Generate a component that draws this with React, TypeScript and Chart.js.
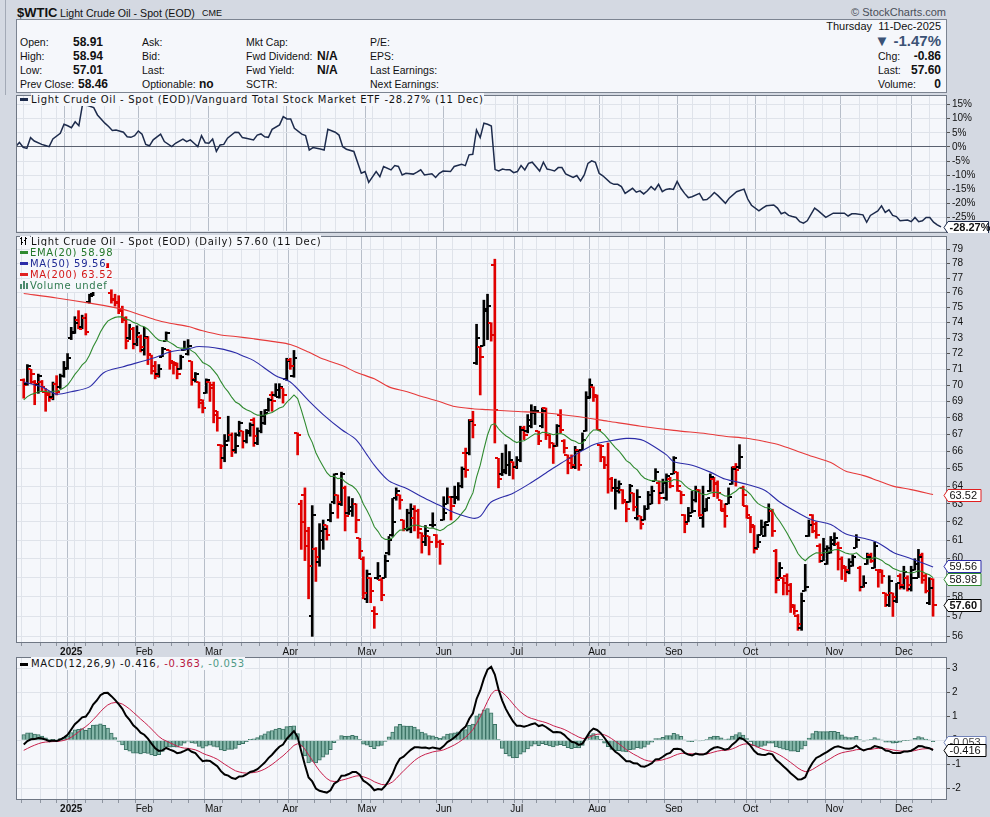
import React, { useEffect, useRef } from 'react';
import { Chart, registerables } from 'chart.js';
Chart.register(...registerables);

// ---------------- data ----------------
const START_DATE = '2024-12-12';
const END_DATE = '2025-12-11';
const HOLIDAYS = ['2024-12-25', '2025-01-01', '2025-01-09', '2025-01-20', '2025-02-17', '2025-04-18', '2025-05-26', '2025-06-19', '2025-07-04', '2025-09-01', '2025-11-27'];

const OPEN = [
  70.3, 70.1, 71.0, 70.2, 70.0, 70.2, 69.6, 69.4, 69.3, 70.1, 69.9, 70.6, 71.1,
  73.0, 73.4, 74.2, 73.7, 74.3, 75.4, 75.9, 77.6, 77.2, 78.4, 77.7, 76.0, 75.5, 75.4, 74.9, 74.2, 73.0, 73.6, 72.6, 73.1,
  72.2, 73.0, 71.9, 71.2, 70.7, 71.8, 72.8, 72.2, 71.5, 71.4, 71.0, 72.2, 72.0, 71.5, 70.3, 70.2, 69.1, 69.5, 70.2,
  70.0, 68.2, 66.4, 65.6, 66.6, 67.0, 66.1, 67.0, 67.2, 66.6, 67.1, 67.9, 66.5, 67.2, 67.7, 68.5, 69.4, 69.4, 69.3, 69.8, 70.4,
  71.6, 70.6, 67.1, 63.0, 63.5, 61.5, 57.0, 60.5, 59.8, 61.0, 61.8, 62.1, 63.1, 63.5, 63.0, 63.9, 62.5, 62.6, 63.0, 61.1, 60.0,
  57.9, 59.0, 57.3, 59.0, 58.9, 59.0, 60.3, 61.3, 63.3, 63.5, 62.1, 61.6, 61.6, 62.2, 62.6, 61.4, 60.9, 61.2, 61.8, 61.3, 60.9,
  62.1, 63.0, 63.4, 63.4, 63.3, 64.0, 65.9, 65.9, 67.9, 71.4, 72.4, 72.5, 74.9, 74.0, 77.9, 65.6, 64.7, 64.8, 65.2, 65.4,
  65.1, 65.5, 67.4, 67.2, 67.5, 68.4, 67.2, 67.5, 68.6, 67.0, 66.5, 66.3, 68.2, 66.6, 65.8, 65.6, 65.1, 66.1, 66.1, 67.2, 69.3, 69.9,
  69.4, 66.4, 65.7, 65.2, 64.4, 63.9, 63.7, 63.8, 63.1, 63.1, 63.6, 62.2, 62.3, 62.1, 62.7, 63.0, 64.3, 64.2, 63.6, 63.3, 64.4,
  64.7, 64.8, 63.7, 62.4, 62.0, 62.5, 63.2, 63.8, 62.2, 62.6, 63.7, 64.4, 64.2, 63.2, 62.6, 63.0, 64.1, 65.1, 65.1, 63.9, 62.9,
  62.2, 61.7, 60.6, 61.3, 61.2, 62.0, 62.6, 60.4, 59.0, 59.0, 59.1, 58.6, 57.6, 57.0, 56.4, 58.3, 61.2, 62.4, 61.9, 60.7, 59.9, 59.7, 60.3,
  60.8, 60.8, 60.0, 59.5, 59.3, 59.6, 60.6, 59.5, 58.5, 59.7, 60.2, 59.5, 59.4, 59.4, 58.2, 57.6, 58.2, 57.8, 59.1,
  58.5, 59.0, 58.4, 59.4, 59.0, 60.2, 59.1, 57.7, 58.91,
];
const HIGH = [
  70.4, 71.3, 71.0, 70.3, 70.7, 70.3, 69.8, 69.6, 70.2, 70.6, 70.7, 71.5, 72.0,
  73.7, 74.4, 74.8, 74.5, 74.6, 75.9, 77.9, 77.8, 78.7, 78.5, 78.0, 76.2, 75.9, 75.8, 75.1, 74.4, 73.9, 73.7, 73.8, 73.2,
  73.7, 73.1, 71.9, 71.5, 71.3, 72.4, 73.4, 72.2, 71.5, 71.4, 71.9, 72.8, 72.9, 71.5, 70.8, 70.2, 69.1, 70.4, 70.2,
  70.2, 68.4, 66.4, 67.0, 68.1, 67.1, 67.1, 67.8, 67.2, 67.3, 67.7, 68.0, 67.4, 68.4, 68.5, 69.2, 69.6, 70.1, 70.1, 69.8, 71.7,
  71.7, 72.2, 67.1, 63.2, 63.9, 61.7, 62.9, 60.6, 61.9, 62.1, 61.8, 63.0, 64.7, 63.5, 64.8, 64.0, 63.4, 63.3, 63.0, 61.1, 60.1,
  59.4, 59.0, 57.5, 59.8, 59.0, 60.2, 61.2, 63.3, 63.9, 63.5, 62.1, 62.7, 63.0, 62.9, 62.7, 61.4, 61.8, 61.2, 62.5, 61.3, 61.0,
  63.4, 63.9, 63.4, 64.0, 64.2, 65.1, 66.2, 67.9, 68.4, 73.9, 72.4, 75.5, 75.9, 74.0, 78.3, 65.6, 65.9, 66.4, 66.0, 65.4,
  65.7, 67.5, 67.5, 68.2, 68.8, 68.7, 67.2, 68.6, 68.6, 67.0, 66.5, 67.6, 68.5, 66.7, 65.8, 65.8, 66.3, 66.1, 67.1, 69.6, 70.4, 69.9,
  69.4, 66.4, 65.7, 66.5, 64.5, 64.4, 64.3, 63.8, 63.1, 64.1, 63.6, 63.8, 62.3, 62.9, 63.7, 64.0, 65.0, 64.3, 64.4, 64.7, 64.5,
  65.7, 64.8, 63.7, 62.4, 62.8, 63.7, 64.0, 63.8, 64.0, 63.3, 64.7, 64.5, 64.3, 63.2, 63.0, 63.9, 65.1, 65.3, 66.4, 64.0, 62.9,
  62.3, 61.8, 61.3, 62.1, 62.0, 63.0, 62.7, 60.5, 59.8, 59.0, 59.2, 58.7, 57.6, 57.1, 58.2, 59.7, 62.1, 62.4, 62.0, 60.8, 61.1, 60.7, 61.2,
  61.4, 60.9, 60.1, 59.6, 60.0, 60.2, 61.3, 59.6, 59.1, 60.3, 60.3, 60.9, 59.4, 59.4, 58.2, 59.1, 58.2, 58.7, 59.2,
  59.6, 59.1, 59.6, 60.0, 60.5, 60.3, 59.2, 59.0, 58.94,
];
const LOW = [
  69.2, 70.0, 70.1, 68.8, 69.5, 69.6, 68.4, 69.0, 69.1, 69.4, 69.8, 70.5, 71.0,
  72.9, 73.3, 73.6, 73.6, 73.2, 75.3, 75.8, 76.6, 77.1, 77.0, 76.9, 75.3, 75.1, 74.6, 74.0, 72.3, 72.9, 72.3, 72.5, 72.1,
  71.9, 71.3, 70.7, 70.4, 70.5, 71.8, 72.8, 71.0, 70.7, 70.4, 71.0, 72.2, 71.9, 70.0, 70.2, 68.6, 68.3, 69.5, 69.0,
  67.7, 67.2, 65.0, 65.4, 66.6, 65.7, 65.9, 66.9, 66.2, 66.5, 66.9, 66.3, 66.4, 67.1, 67.6, 68.4, 68.4, 69.3, 69.2, 68.9, 70.3,
  71.0, 70.5, 65.8, 60.5, 59.9, 57.9, 56.0, 58.8, 59.6, 60.5, 61.0, 62.0, 63.0, 62.2, 62.9, 61.5, 62.4, 62.3, 61.4, 60.0, 57.9,
  57.7, 57.7, 56.4, 58.9, 57.8, 59.0, 60.2, 61.2, 63.2, 62.7, 61.5, 61.5, 61.4, 61.5, 61.1, 60.3, 60.7, 60.2, 61.7, 60.6, 59.7,
  62.1, 63.0, 62.1, 63.0, 63.2, 63.9, 64.5, 65.8, 66.8, 71.3, 69.4, 72.5, 72.9, 72.8, 66.5, 63.9, 64.6, 64.7, 64.6, 64.4,
  65.0, 65.4, 66.7, 67.1, 67.4, 67.6, 66.4, 67.4, 66.7, 66.2, 65.3, 66.3, 67.1, 65.9, 64.7, 65.0, 65.0, 64.9, 66.1, 67.2, 69.2, 69.0,
  67.3, 65.4, 65.0, 63.6, 63.7, 62.7, 63.6, 63.0, 62.0, 63.1, 62.6, 62.1, 61.6, 62.1, 62.7, 63.0, 64.3, 63.0, 63.6, 63.2, 63.9,
  64.7, 63.7, 63.0, 61.4, 62.0, 62.5, 63.1, 62.3, 61.7, 62.6, 63.7, 63.4, 63.3, 62.6, 61.7, 63.0, 64.1, 64.0, 65.0, 62.9, 62.2,
  61.4, 60.3, 60.6, 61.3, 61.2, 62.0, 61.2, 58.2, 59.0, 58.1, 58.1, 57.2, 57.1, 56.3, 56.3, 58.3, 61.2, 61.4, 61.1, 59.8, 59.9, 59.7, 60.3,
  60.7, 59.4, 58.9, 58.8, 59.2, 59.6, 60.6, 58.3, 58.5, 59.7, 59.8, 59.5, 58.5, 58.7, 57.5, 57.5, 57.0, 57.7, 58.4,
  58.4, 58.3, 58.3, 59.4, 59.0, 58.7, 58.2, 57.6, 57.01,
];
const CLOSE = [
  70.0, 71.2, 70.7, 70.1, 70.6, 69.9, 69.5, 69.2, 70.1, 69.6, 70.6, 71.0, 71.7,
  73.3, 74.0, 73.6, 74.3, 73.4, 75.8, 77.6, 77.0, 78.4, 77.6, 77.1, 75.6, 75.3, 74.8, 74.3, 72.8, 73.6, 72.6, 73.3, 72.4,
  73.1, 72.0, 70.9, 70.6, 71.0, 72.3, 73.3, 71.4, 71.3, 70.7, 71.8, 72.3, 72.5, 70.4, 70.7, 68.9, 68.6, 70.3, 69.8,
  68.4, 68.0, 66.3, 66.4, 67.0, 66.0, 66.3, 67.7, 66.6, 67.2, 67.6, 66.9, 67.2, 68.1, 68.3, 69.1, 69.0, 69.7, 69.9, 69.4, 71.5,
  71.2, 71.7, 67.0, 62.0, 60.7, 59.6, 62.4, 60.1, 61.5, 61.6, 61.3, 62.5, 64.7, 63.1, 64.7, 62.3, 62.8, 63.0, 62.1, 60.4, 58.2,
  59.2, 58.3, 57.1, 59.1, 58.1, 59.9, 61.0, 62.0, 63.7, 63.2, 61.6, 62.5, 62.7, 62.6, 61.6, 61.2, 61.5, 60.9, 61.8, 60.9, 60.8,
  62.5, 63.4, 62.9, 63.4, 64.0, 65.0, 64.9, 67.8, 67.6, 73.0, 71.8, 74.8, 75.1, 73.2, 68.5, 64.4, 64.9, 65.2, 65.5, 65.1,
  65.5, 67.3, 67.0, 67.9, 68.3, 68.4, 66.6, 68.4, 67.0, 66.5, 66.3, 67.5, 67.3, 66.2, 65.3, 65.2, 66.0, 65.2, 66.7, 69.2, 70.0, 69.3,
  67.3, 66.3, 65.2, 64.4, 63.9, 63.9, 64.1, 63.2, 62.7, 64.0, 62.8, 63.4, 61.9, 62.7, 63.5, 63.7, 64.8, 63.3, 64.2, 64.6, 64.0,
  65.6, 64.0, 63.5, 61.9, 62.3, 62.6, 63.7, 62.4, 62.7, 63.3, 64.5, 64.1, 63.6, 62.7, 62.3, 63.4, 65.0, 64.9, 65.7, 63.5, 62.4,
  61.8, 60.5, 60.9, 61.7, 61.8, 62.6, 61.5, 58.9, 59.5, 58.7, 58.3, 57.5, 57.3, 56.6, 57.8, 58.5, 61.8, 61.5, 61.3, 60.2, 60.5, 60.6, 61.0,
  61.1, 60.6, 59.6, 59.4, 59.8, 60.1, 61.0, 58.5, 58.7, 60.1, 59.9, 60.7, 59.3, 59.1, 58.1, 58.8, 58.0, 58.7, 58.6,
  59.3, 58.6, 59.0, 59.7, 60.1, 58.9, 58.3, 58.46, 57.60,
];

// moving averages (bar index, value)
const MA50_IDX = [0, 5, 9, 13, 18, 22, 27, 36, 40, 45, 48, 54, 58, 60, 63, 69, 73, 78, 82, 87, 91, 94, 96, 100, 105, 109, 114, 118, 123, 125, 128, 134, 139, 143, 147, 151, 156, 160, 165, 169, 171, 176, 178, 183, 188, 192, 194, 198, 203, 207, 212, 216, 221, 225, 230, 234, 238, 243, 249];
const MA50_VAL = [70.2, 69.9, 69.45, 69.6, 69.9, 70.8, 71.15, 71.75, 72.1, 72.3, 72.45, 72.3, 72.05, 71.85, 71.55, 70.6, 70.2, 69.05, 68.2, 67.3, 66.7, 65.8, 65.2, 64.3, 63.85, 63.4, 62.9, 62.5, 62.2, 62.3, 63.1, 63.6, 64.2, 64.75, 65.3, 65.8, 66.4, 66.6, 66.77, 66.7, 66.5, 65.8, 65.4, 65.2, 64.8, 64.4, 64.3, 64.1, 63.75, 63.1, 62.5, 62.1, 61.85, 61.35, 61.1, 60.85, 60.35, 60.0, 59.56];
const MA200_IDX = [0, 9, 18, 27, 31, 36, 40, 45, 49, 54, 58, 63, 69, 73, 78, 82, 87, 91, 96, 100, 105, 109, 114, 118, 123, 127, 134, 143, 151, 160, 169, 178, 187, 192, 198, 203, 207, 212, 216, 221, 225, 230, 234, 238, 243, 249];
const MA200_VAL = [75.95, 75.65, 75.3, 74.9, 74.6, 74.2, 73.97, 73.75, 73.47, 73.2, 73.1, 72.95, 72.75, 72.58, 72.1, 71.65, 71.25, 70.82, 70.4, 69.9, 69.6, 69.3, 68.98, 68.69, 68.55, 68.5, 68.4, 68.3, 68.1, 67.8, 67.5, 67.25, 67.05, 66.9, 66.78, 66.58, 66.38, 66.0, 65.7, 65.35, 64.87, 64.6, 64.3, 64.0, 63.8, 63.52];

// relative strength vs VTI, % change (bar index, value)
const RS_IDX = [0, 1, 2, 3, 4, 5, 7, 8, 9, 10, 12, 13, 14, 15, 16, 17, 18, 19, 21, 22, 24, 25, 26, 27, 29, 30, 31, 32, 33, 34, 35, 36, 37, 39, 40, 42, 43, 45, 46, 47, 48, 49, 50, 51, 52, 53, 54, 55, 56, 57, 59, 60, 61, 62, 64, 65, 66, 67, 68, 69, 71, 72, 73, 74, 75, 77, 78, 79, 80, 82, 83, 84, 86, 87, 88, 89, 91, 93, 94, 95, 97, 98, 99, 101, 102, 103, 104, 105, 107, 108, 109, 110, 112, 113, 114, 115, 117, 118, 120, 121, 122, 123, 124, 125, 126, 127, 128, 129, 130, 131, 132, 133, 134, 135, 136, 137, 138, 139, 141, 142, 143, 144, 145, 146, 147, 148, 150, 151, 152, 153, 154, 155, 156, 157, 158, 160, 161, 162, 163, 164, 166, 167, 168, 169, 170, 171, 172, 173, 174, 175, 176, 177, 178, 179, 180, 181, 182, 184, 185, 186, 187, 188, 189, 191, 192, 194, 196, 197, 198, 200, 201, 202, 204, 205, 206, 207, 208, 209, 210, 211, 212, 213, 215, 216, 218, 220, 221, 223, 224, 225, 226, 228, 229, 230, 232, 233, 234, 235, 236, 237, 238, 240, 241, 242, 243, 244, 245, 246, 247, 248, 249];
const RS_VAL = [0.1, 1.6, -0.1, -0.5, 3.3, 2.1, 0.9, 0.5, 0.1, 2.8, 4.8, 8.0, 7.5, 6.8, 8.9, 7.5, 15.1, 14.8, 13.9, 11.3, 8.4, 7.2, 5.8, 6.0, 5.2, 3.6, 3.4, 4.0, 5.6, 4.5, 0.9, 0.4, 2.5, 4.5, 1.9, 0.1, 1.3, 2.8, 1.9, 2.5, 1.3, 0.1, 4.0, 1.5, 1.3, 2.8, -1.6, 0.7, 0.9, 3.1, 5.2, 5.1, 3.3, 3.1, 2.5, 4.2, 4.6, 3.6, 3.4, 6.2, 7.8, 10.7, 9.9, 9.9, 6.6, 4.5, 4.0, -1.1, -0.2, -0.7, -1.1, 6.2, 5.2, 4.2, 0.1, -0.8, -1.6, -9.3, -8.7, -12.5, -8.7, -10.5, -6.9, -8.1, -6.6, -6.9, -9.9, -9.3, -9.6, -8.9, -8.1, -9.9, -9.5, -10.8, -9.3, -8.5, -8.7, -6.9, -6.1, -6.6, -2.8, -2.6, 6.0, 3.3, 8.4, 8.0, 7.4, -8.0, -8.5, -7.8, -8.1, -8.1, -9.1, -8.7, -6.6, -8.1, -5.8, -5.4, -8.5, -5.4, -7.8, -8.1, -8.5, -7.3, -7.3, -9.5, -10.8, -10.1, -12.0, -9.9, -5.8, -4.9, -5.4, -9.3, -10.2, -12.6, -13.2, -13.2, -14.0, -16.4, -14.6, -16.0, -15.5, -16.6, -15.5, -14.0, -15.2, -13.2, -15.8, -15.0, -14.8, -15.0, -12.2, -14.6, -16.4, -17.9, -17.6, -16.4, -18.7, -18.6, -17.5, -16.1, -17.2, -19.9, -18.1, -15.8, -14.9, -18.4, -20.6, -22.6, -21.6, -20.8, -20.5, -21.6, -23.6, -23.1, -24.2, -24.6, -24.9, -26.4, -26.9, -26.1, -21.6, -22.6, -24.9, -23.4, -23.4, -23.4, -24.4, -23.6, -23.6, -24.0, -26.6, -24.2, -22.6, -20.8, -23.1, -22.2, -24.2, -24.6, -26.1, -25.8, -26.4, -24.9, -26.4, -26.1, -24.9, -24.9, -26.6, -27.5, -28.27];

// indicator seeds (values at the first bar)
const EMA20_SEED = 69.1;
const EMA12_SEED = 69.55;
const EMA26_SEED = 69.73;
const SIGNAL_SEED = -0.42;

const PRICE_TICKS = [56, 57, 58, 59, 60, 61, 62, 63, 64, 65, 66, 67, 68, 69, 70, 71, 72, 73, 74, 75, 76, 77, 78, 79];
const RS_TICKS = [-30, -25, -20, -15, -10, -5, 0, 5, 10, 15];
const MACD_TICKS = [-2, -1, 0, 1, 2, 3];
const MONTH_NAMES = ['2025', 'Feb', 'Mar', 'Apr', 'May', 'Jun', 'Jul', 'Aug', 'Sep', 'Oct', 'Nov', 'Dec'];

// ---------------- style ----------------
const FONT_UI = '"Liberation Sans", Arial, sans-serif';
const FONT_CH = '"DejaVu Sans", Verdana, sans-serif';
const FRAME = '#d4d9e2';
const PLOT_BG = '#f5f7fb';
const GRID = '#dfe3ea';
const GRID_MONTH = '#b7bec9';
const BORDER = '#6f7784';
const RED = '#e00000';
const X_MIN = 0.35;
const X_MAX = 250.35;

function buildTradingDates(): Date[] {
  const out: Date[] = [];
  const hol = new Set(HOLIDAYS);
  const d = new Date(START_DATE + 'T00:00:00Z');
  const end = new Date(END_DATE + 'T00:00:00Z').getTime();
  while (d.getTime() <= end) {
    const dow = d.getUTCDay();
    const key = d.toISOString().slice(0, 10);
    if (dow !== 0 && dow !== 6 && !hol.has(key)) out.push(new Date(d.getTime()));
    d.setUTCDate(d.getUTCDate() + 1);
  }
  return out;
}
const DATES = buildTradingDates();
const MONTH_LABEL: Record<number, string> = {};
const GRID_SET = new Set<number>();
DATES.forEach((d, i) => {
  if (i === 0) return;
  const p = DATES[i - 1];
  if (d.getUTCMonth() !== p.getUTCMonth()) {
    MONTH_LABEL[i] = MONTH_NAMES[d.getUTCMonth()];
    GRID_SET.add(i);
  }
  if (d.getUTCDay() < p.getUTCDay() || d.getTime() - p.getTime() > 4 * 86400000) GRID_SET.add(i);
});
const GRID_IDX = Array.from(GRID_SET).sort((a, b) => a - b);

function ema(values: number[], period: number, seed: number): number[] {
  const k = 2 / (period + 1);
  const out: number[] = [];
  let e = seed;
  values.forEach((v, i) => {
    if (i > 0) e = e + k * (v - e);
    out.push(e);
  });
  return out;
}

function xScale(labels: boolean): any {
  return {
    type: 'linear',
    min: X_MIN,
    max: X_MAX,
    afterBuildTicks: (s: any) => { s.ticks = GRID_IDX.map((v) => ({ value: v })); },
    afterFit: (s: any) => {
      s.height = labels ? 12 : 0;
      s.paddingLeft = 0; s.paddingRight = 0; s.paddingTop = 0; s.paddingBottom = 0;
    },
    grid: {
      color: (c: any) => (c.tick && MONTH_LABEL[c.tick.value] ? GRID_MONTH : GRID),
      lineWidth: 1,
      drawTicks: labels,
      tickLength: 3,
      tickColor: '#8d949f',
    },
    border: { display: false },
    ticks: {
      display: labels,
      autoSkip: false,
      maxRotation: 0,
      minRotation: 0,
      padding: 0,
      color: '#111',
      font: (c: any) => ({ family: FONT_UI, size: 10, weight: c.tick && MONTH_LABEL[c.tick.value] === '2025' ? 'bold' : 'normal' }),
      callback: (v: any) => MONTH_LABEL[v] || '',
    },
  };
}

function yScale(extra: any, ticks: number[], fmt: (v: number) => string, gridColor?: (v: number) => string): any {
  return {
    position: 'right',
    afterBuildTicks: (s: any) => { s.ticks = ticks.map((v) => ({ value: v })); },
    afterFit: (s: any) => {
      s.width = 44;
      s.paddingTop = 0; s.paddingBottom = 0; s.paddingLeft = 0; s.paddingRight = 0;
    },
    grid: {
      color: (c: any) => (gridColor && c.tick ? gridColor(c.tick.value) : GRID),
      drawTicks: true,
      tickLength: 4,
      tickColor: '#555',
    },
    border: { display: false },
    ticks: {
      padding: 2,
      autoSkip: false,
      color: '#111',
      font: { family: FONT_UI, size: 10 },
      callback: (v: any) => fmt(Number(v)),
    },
    ...extra,
  };
}

const framePlugin: any = {
  id: 'frame',
  beforeDraw(chart: any) {
    const { ctx, chartArea: a } = chart;
    ctx.save();
    ctx.fillStyle = FRAME;
    ctx.fillRect(0, 0, chart.width, chart.height);
    ctx.fillStyle = PLOT_BG;
    ctx.fillRect(a.left, a.top, a.right - a.left, a.bottom - a.top);
    ctx.restore();
  },
  afterDraw(chart: any, _args: any, opts: any) {
    const { ctx, chartArea: a } = chart;
    ctx.save();
    ctx.strokeStyle = BORDER;
    ctx.lineWidth = 1;
    ctx.strokeRect(Math.round(a.left) - 0.5, Math.round(a.top) + 0.5, Math.round(a.right - a.left) + 1, Math.round(a.bottom - a.top) - 1);
    const items = (opts && opts.items) || [];
    const y = chart.scales.y;
    items.forEach((t: any) => {
      const py = Math.round(y.getPixelForValue(t.value)) + 0.5 + (t.dy || 0);
      const x0 = a.right + 2;
      const x1 = Math.min(chart.width - 1.5, x0 + (t.w || 33));
      const h = 12;
      ctx.beginPath();
      ctx.moveTo(x0 - 4, py);
      ctx.lineTo(x0, py - h / 2);
      ctx.lineTo(x1, py - h / 2);
      ctx.lineTo(x1, py + h / 2);
      ctx.lineTo(x0, py + h / 2);
      ctx.closePath();
      ctx.fillStyle = '#ffffff';
      ctx.fill();
      ctx.strokeStyle = t.color;
      ctx.lineWidth = 1;
      ctx.stroke();
      ctx.fillStyle = t.textColor || '#111';
      ctx.font = (t.bold ? 'bold ' : '') + '11px ' + FONT_UI;
      ctx.textBaseline = 'middle';
      ctx.textAlign = 'left';
      ctx.fillText(t.text, x0 + 1.5, py + 0.5);
    });
    ctx.restore();
  },
};

function tickImage(color: string, left: boolean) {
  const c = document.createElement('canvas');
  c.width = 7;
  c.height = 2;
  const g = c.getContext('2d') as CanvasRenderingContext2D;
  g.fillStyle = color;
  g.fillRect(left ? 0 : 4, 0, 3, 2);
  return c;
}

const baseOptions = (padding: any): any => ({
  responsive: false,
  maintainAspectRatio: false,
  animation: false,
  events: [],
  layout: { padding },
  plugins: { legend: { display: false }, tooltip: { enabled: false } },
});

function rsConfig(): any {
  return {
    type: 'line',
    data: {
      datasets: [{
        data: RS_IDX.map((x, i) => ({ x, y: RS_VAL[i] })),
        borderColor: '#1d2b4c',
        borderWidth: 1.5,
        pointRadius: 0,
        tension: 0,
      }],
    },
    options: {
      ...baseOptions({ left: 17, right: 0, top: 0, bottom: 0 }),
      scales: {
        x: xScale(false),
        y: yScale({ type: 'linear', min: -30.4, max: 18.35 }, RS_TICKS, (v) => v + '%', (v) => (v === 0 ? '#5a6170' : GRID)),
      },
      plugins: {
        legend: { display: false },
        tooltip: { enabled: false },
        frame: { items: [{ value: -28.27, text: '-28.27%', color: '#1d2b4c', bold: true, w: 44 }] },
      },
    },
    plugins: [framePlugin],
  };
}

function priceConfig(): any {
  const colors = CLOSE.map((c, i) => (i === 0 || c < CLOSE[i - 1] ? RED : '#000000'));
  const openRed = tickImage(RED, true);
  const openBlack = tickImage('#000000', true);
  const closeRed = tickImage(RED, false);
  const closeBlack = tickImage('#000000', false);
  const ema20 = ema(CLOSE, 20, EMA20_SEED);
  return {
    type: 'bar',
    data: {
      datasets: [
        { type: 'line', data: MA200_IDX.map((x, i) => ({ x, y: MA200_VAL[i] })), borderColor: '#e63a3a', borderWidth: 1.1, pointRadius: 0, tension: 0.3, order: 0 },
        { type: 'line', data: MA50_IDX.map((x, i) => ({ x, y: MA50_VAL[i] })), borderColor: '#2c2ca8', borderWidth: 1.1, pointRadius: 0, tension: 0.3, order: 0 },
        { type: 'line', data: ema20.map((y, x) => ({ x, y })), borderColor: '#2f8a2f', borderWidth: 1.1, pointRadius: 0, tension: 0, order: 0 },
        {
          type: 'line', showLine: false, data: OPEN.map((y, x) => ({ x, y })), order: 1,
          pointRadius: 2, pointHoverRadius: 2,
          pointStyle: (c: any) => (colors[c.dataIndex] === RED ? openRed : openBlack),
        },
        {
          type: 'line', showLine: false, data: CLOSE.map((y, x) => ({ x, y })), order: 1,
          pointRadius: 2, pointHoverRadius: 2,
          pointStyle: (c: any) => (colors[c.dataIndex] === RED ? closeRed : closeBlack),
        },
        {
          type: 'bar', data: LOW.map((l, x) => ({ x, y: [l, HIGH[x]] })), backgroundColor: colors,
          barThickness: 2, borderWidth: 0, order: 2,
        },
      ],
    },
    options: {
      ...baseOptions({ left: 17, right: 0, top: 0, bottom: 0 }),
      scales: {
        x: xScale(true),
        y: yScale({ type: 'logarithmic', min: 55.67, max: 79.93 }, PRICE_TICKS, (v) => String(v)),
      },
      plugins: {
        legend: { display: false },
        tooltip: { enabled: false },
        frame: {
          items: [
            { value: 63.52, text: '63.52', color: '#e02020' },
            { value: 59.56, text: '59.56', color: '#2c2ca8', dy: -1 },
            { value: 58.98, text: '58.98', color: '#2f8a2f', dy: 1 },
            { value: 57.6, text: '57.60', color: '#000000', bold: true },
          ],
        },
      },
    },
    plugins: [framePlugin],
  };
}

function macdConfig(): any {
  const e12 = ema(CLOSE, 12, EMA12_SEED);
  const e26 = ema(CLOSE, 26, EMA26_SEED);
  const macd = e12.map((v, i) => v - e26[i]);
  const signal = ema(macd, 9, SIGNAL_SEED);
  const hist = macd.map((v, i) => v - signal[i]);
  return {
    type: 'bar',
    data: {
      datasets: [
        { type: 'line', data: macd.map((y, x) => ({ x, y })), borderColor: '#000000', borderWidth: 2, pointRadius: 0, order: 0 },
        { type: 'line', data: signal.map((y, x) => ({ x, y })), borderColor: '#c8204c', borderWidth: 1, pointRadius: 0, order: 1 },
        {
          type: 'bar', data: hist.map((y, x) => ({ x, y })), backgroundColor: '#86b7aa', borderColor: '#3b7264',
          borderWidth: 1, barPercentage: 1, categoryPercentage: 1, order: 2,
        },
      ],
    },
    options: {
      ...baseOptions({ left: 17, right: 0, top: 2, bottom: 5 }),
      scales: {
        x: xScale(true),
        y: yScale({ type: 'linear', min: -2.49, max: 3.47 }, MACD_TICKS, (v) => String(v)),
      },
      plugins: {
        legend: { display: false },
        tooltip: { enabled: false },
        frame: {
          items: [
            { value: -0.053, text: '-0.053', color: '#7283b8', textColor: '#444', w: 38 },
            { value: -0.416, text: '-0.416', color: '#000000', w: 38 },
          ],
        },
      },
    },
    plugins: [framePlugin],
  };
}

// ---------------- components ----------------
function Txt(p: any) {
  const size = p.size || 11;
  const h = Math.round(size * 1.3);
  const style: any = {
    position: 'absolute', top: p.y - h / 2, height: h, lineHeight: h + 'px', fontSize: size,
    fontWeight: p.bold ? 'bold' : 'normal', color: p.color || '#111', fontFamily: p.family || FONT_UI,
    whiteSpace: 'nowrap', letterSpacing: p.ls || 'normal',
  };
  if (p.align === 'right') style.right = 990 - p.x; else style.left = p.x;
  if (p.bg) style.background = p.bg;
  return <div style={style}>{p.children}</div>;
}

function Dash(p: any) {
  return <div style={{ position: 'absolute', left: p.x, top: p.y - 1, width: 8, height: 2.5, background: p.color }} />;
}

function Box(p: any) {
  return <div style={{ position: 'absolute', left: p.x, top: p.y, width: p.w, height: p.h, background: p.c }} />;
}

export default function App() {
  const rsRef = useRef<HTMLCanvasElement>(null);
  const priceRef = useRef<HTMLCanvasElement>(null);
  const macdRef = useRef<HTMLCanvasElement>(null);

  useEffect(() => {
    const charts = [
      new Chart(rsRef.current as HTMLCanvasElement, rsConfig()),
      new Chart(priceRef.current as HTMLCanvasElement, priceConfig()),
      new Chart(macdRef.current as HTMLCanvasElement, macdConfig()),
    ];
    return () => charts.forEach((c) => c.destroy());
  }, []);

  const legFont = { family: FONT_CH, size: 10, ls: '0.7px', bg: PLOT_BG };
  const hdrRows = [42, 56, 70, 84];
  const lab = 10.5;

  return (
    <div style={{ position: 'absolute', left: 0, top: 0, width: 990, height: 817, background: FRAME, overflow: 'hidden' }}>
      <div style={{ position: 'absolute', left: 5, top: 0, width: 1, height: 817, background: '#a3aab6' }} />
      {/* header */}
      <Txt x={17} y={12} size={13} bold>$WTIC</Txt>
      <Txt x={60} y={12.5} size={10.6}>Light Crude Oil - Spot (EOD)</Txt>
      <Txt x={202} y={13} size={9}>CME</Txt>
      <Txt x={946} y={12} size={11} color="#4a4f58" align="right">© StockCharts.com</Txt>
      <div style={{ position: 'absolute', left: 16, top: 19, width: 929, height: 72, background: PLOT_BG, border: '1px solid #7c8491' }} />
      <Txt x={941} y={26} size={11} align="right">Thursday&nbsp; 11-Dec-2025</Txt>
      <Txt x={20} y={hdrRows[0]} size={lab}>Open:</Txt>
      <Txt x={20} y={hdrRows[1]} size={lab}>High:</Txt>
      <Txt x={20} y={hdrRows[2]} size={lab}>Low:</Txt>
      <Txt x={20} y={hdrRows[3]} size={lab}>Prev Close:</Txt>
      <Txt x={73} y={hdrRows[0]} size={12} bold>58.91</Txt>
      <Txt x={73} y={hdrRows[1]} size={12} bold>58.94</Txt>
      <Txt x={73} y={hdrRows[2]} size={12} bold>57.01</Txt>
      <Txt x={78} y={hdrRows[3]} size={12} bold>58.46</Txt>
      <Txt x={142} y={hdrRows[0]} size={lab}>Ask:</Txt>
      <Txt x={142} y={hdrRows[1]} size={lab}>Bid:</Txt>
      <Txt x={142} y={hdrRows[2]} size={lab}>Last:</Txt>
      <Txt x={142} y={hdrRows[3]} size={lab}>Optionable:</Txt>
      <Txt x={199} y={hdrRows[3]} size={12} bold>no</Txt>
      <Txt x={246} y={hdrRows[0]} size={lab}>Mkt Cap:</Txt>
      <Txt x={246} y={hdrRows[1]} size={lab}>Fwd Dividend:</Txt>
      <Txt x={246} y={hdrRows[2]} size={lab}>Fwd Yield:</Txt>
      <Txt x={246} y={hdrRows[3]} size={lab}>SCTR:</Txt>
      <Txt x={317} y={hdrRows[1]} size={12} bold>N/A</Txt>
      <Txt x={317} y={hdrRows[2]} size={12} bold>N/A</Txt>
      <Txt x={370} y={hdrRows[0]} size={lab}>P/E:</Txt>
      <Txt x={370} y={hdrRows[1]} size={lab}>EPS:</Txt>
      <Txt x={370} y={hdrRows[2]} size={lab}>Last Earnings:</Txt>
      <Txt x={370} y={hdrRows[3]} size={lab}>Next Earnings:</Txt>
      <Txt x={941} y={41} size={15} bold color="#3b5276" align="right">▼ -1.47%</Txt>
      <Txt x={878} y={hdrRows[1]} size={lab}>Chg:</Txt>
      <Txt x={941} y={hdrRows[1]} size={12} bold align="right">-0.86</Txt>
      <Txt x={878} y={hdrRows[2]} size={lab}>Last:</Txt>
      <Txt x={941} y={hdrRows[2]} size={12} bold align="right">57.60</Txt>
      <Txt x={878} y={hdrRows[3]} size={lab}>Volume:</Txt>
      <Txt x={941} y={hdrRows[3]} size={12} bold align="right">0</Txt>

      {/* panels */}
      <div style={{ position: 'absolute', left: 0, top: 95 }}>
        <canvas ref={rsRef} width={990} height={138} style={{ display: 'block', width: 990, height: 138 }} />
      </div>
      <div style={{ position: 'absolute', left: 0, top: 233 }}>
        <canvas ref={priceRef} width={990} height={422} style={{ display: 'block', width: 990, height: 422 }} />
      </div>
      <div style={{ position: 'absolute', left: 0, top: 655 }}>
        <canvas ref={macdRef} width={990} height={162} style={{ display: 'block', width: 990, height: 162 }} />
      </div>

      {/* RS legend */}
      <Dash x={20} y={99} color="#1d2b4c" />
      <Txt x={31} y={99.5} {...legFont}>Light Crude Oil - Spot (EOD)/Vanguard Total Stock Market ETF -28.27% (11 Dec)</Txt>

      {/* price legend */}
      <Box x={20} y={236} w={10} h={10} c={PLOT_BG} />
      <Box x={21} y={237} w={1} h={8} c="#000" />
      <Box x={20} y={238} w={1} h={1} c="#000" />
      <Box x={22} y={242} w={1} h={1} c="#000" />
      <Box x={25} y={237} w={1} h={8} c="#000" />
      <Box x={24} y={240} w={1} h={1} c="#000" />
      <Box x={26} y={238} w={1} h={1} c="#000" />
      <Txt x={31} y={241.5} {...legFont}>Light Crude Oil - Spot (EOD) (Daily) 57.60 (11 Dec)</Txt>
      <Dash x={20} y={252} color="#2f8a2f" />
      <Txt x={30} y={252.5} {...legFont} color="#23782a">EMA(20) 58.98</Txt>
      <Dash x={20} y={263} color="#2c2ca8" />
      <Txt x={30} y={263.5} {...legFont} color="#1f2a94">MA(50) 59.56</Txt>
      <Dash x={20} y={274} color="#e02020" />
      <Txt x={30} y={274.5} {...legFont} color="#d41818">MA(200) 63.52</Txt>
      <Box x={20} y={280} w={9} h={9} c={PLOT_BG} />
      <Box x={20} y={284} w={2} h={5} c="#4c8a6e" />
      <Box x={23} y={281} w={2} h={8} c="#4c8a6e" />
      <Box x={26} y={283} w={2} h={6} c="#4c8a6e" />
      <Txt x={30} y={285.5} {...legFont} color="#2f7a4f">Volume undef</Txt>

      {/* MACD legend */}
      <Dash x={20} y={664} color="#000" />
      <div style={{ position: 'absolute', left: 31, top: 657, height: 13, lineHeight: '13px', fontFamily: FONT_CH, fontSize: 10, letterSpacing: '0.7px', whiteSpace: 'nowrap', background: PLOT_BG }}>
        <span style={{ color: '#111' }}>MACD(12,26,9) -0.416</span>
        <span style={{ color: '#b8173f' }}>, -0.363</span>
        <span style={{ color: '#4f9a86' }}>, -0.053</span>
      </div>
    </div>
  );
}
